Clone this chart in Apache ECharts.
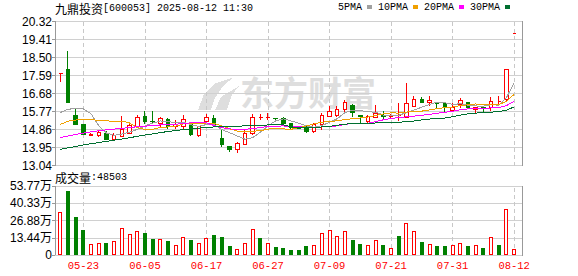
<!DOCTYPE html>
<html><head><meta charset="utf-8">
<script src="https://cdn.jsdelivr.net/npm/echarts@6/dist/echarts.min.js"></script>
<style>html,body{margin:0;padding:0;background:#fff}#c{width:578px;height:276px}
#c svg path{shape-rendering:crispEdges}</style>
</head><body><div id="c"></div>
<script>
const stockName = '九鼎投资';
const stockCode = '600053';
const stamp = '2025-08-12 11:30';
const dates = ['05-20','05-21','05-22','05-23','05-26','05-27','05-28','05-29','05-30','06-03','06-04','06-05','06-06','06-09','06-10','06-11','06-12','06-13','06-16','06-17','06-18','06-19','06-20','06-23','06-24','06-25','06-26','06-27','06-30','07-01','07-02','07-03','07-04','07-07','07-08','07-09','07-10','07-11','07-14','07-15','07-16','07-17','07-18','07-21','07-22','07-23','07-24','07-25','07-28','07-29','07-30','07-31','08-01','08-04','08-05','08-06','08-07','08-08','08-11','08-12'];
const labelDates = ['05-23','06-05','06-17','06-27','07-09','07-21','07-31','08-12'];
const opens  = [17.70,17.90,15.59,15.12,14.56,14.57,14.67,14.33,14.50,14.67,15.00,15.54,15.27,15.17,15.37,15.01,15.00,15.09,14.57,15.26,15.44,14.41,14.02,13.86,14.11,14.67,15.45,15.45,15.44,15.42,15.14,14.95,15.04,14.75,15.09,15.54,15.58,15.88,16.05,15.55,15.26,15.47,15.59,15.52,15.57,15.47,16.01,16.38,16.22,16.22,16.18,15.81,16.10,16.22,15.88,15.98,15.98,16.27,16.38,19.69];
const closes = [17.70,16.23,15.12,14.60,14.62,14.70,14.36,14.58,14.87,15.07,15.46,15.24,15.24,15.42,15.00,15.10,15.37,14.62,15.00,15.48,15.09,14.08,13.86,14.16,14.67,15.48,15.45,15.48,15.42,15.17,14.95,14.90,14.75,15.12,15.59,15.76,15.85,16.22,15.71,15.50,15.54,15.68,15.52,15.59,15.57,16.18,16.38,16.22,16.32,16.15,15.98,15.98,16.35,15.98,15.98,15.93,16.30,16.27,17.90,19.69];
const lows   = [17.28,16.20,15.10,14.58,14.52,14.46,14.35,14.28,14.47,14.63,14.98,15.14,15.20,15.00,14.87,14.87,14.90,14.53,14.50,15.20,14.97,14.00,13.74,13.69,14.08,14.60,15.34,15.34,15.34,15.09,14.87,14.88,14.68,14.70,14.84,15.48,15.48,15.68,15.48,15.20,15.17,15.42,15.34,15.45,15.31,15.45,15.98,16.18,16.05,15.93,15.76,15.76,15.93,15.88,15.68,15.76,15.81,16.10,16.27,19.69];
const highs  = [17.70,18.85,15.91,15.14,14.66,14.78,14.77,14.67,15.54,15.24,15.59,15.79,15.79,15.47,15.44,15.34,15.58,15.20,15.03,15.64,15.58,14.87,14.02,14.24,14.90,15.64,15.64,15.69,15.44,15.47,15.21,14.97,15.09,15.20,15.68,16.05,16.05,16.35,16.15,15.59,15.59,16.10,15.81,15.64,16.22,17.19,16.55,16.49,16.55,16.27,16.27,16.18,16.44,16.27,15.98,15.98,16.52,16.55,17.90,19.69];
const vols = [338800,496500,294800,194000,85300,93100,93100,108600,206900,162900,183600,170700,124100,124100,108600,77600,137100,116400,93100,131900,155200,139600,69800,46500,93100,201700,131900,93100,62100,54300,38800,38800,69800,75000,170700,194000,147400,186200,116400,87900,75000,116400,77600,54300,147400,248300,186200,100900,85300,69800,69800,77600,93100,69800,75000,54300,139600,77600,356900,48503];
const ma5  = [15.72,15.88,15.93,15.90,15.65,15.05,14.68,14.57,14.63,14.72,14.87,15.04,15.18,15.29,15.27,15.20,15.23,15.10,15.02,15.11,15.11,14.85,14.70,14.53,14.37,14.45,14.72,15.05,15.30,15.40,15.29,15.18,15.04,14.98,15.06,15.22,15.41,15.71,15.83,15.81,15.76,15.73,15.59,15.57,15.58,15.71,15.85,15.99,16.13,16.25,16.21,16.13,16.16,16.09,16.05,16.04,16.11,16.09,16.48,17.22];
const ma10 = [15.12,15.28,15.34,15.36,15.35,15.33,15.30,15.27,15.29,15.19,14.96,14.86,14.87,14.96,14.99,15.03,15.14,15.14,15.15,15.19,15.16,15.04,14.90,14.78,14.74,14.78,14.79,14.88,14.92,14.89,14.87,14.95,15.04,15.14,15.23,15.26,15.30,15.37,15.40,15.44,15.49,15.57,15.65,15.70,15.69,15.74,15.79,15.79,15.85,15.92,15.96,15.99,16.07,16.11,16.15,16.13,16.12,16.12,16.28,16.64];
const ma20 = [14.45,14.53,14.61,14.68,14.74,14.80,14.84,14.88,14.92,14.96,15.00,15.03,15.06,15.09,15.11,15.13,15.16,15.20,15.22,15.19,15.06,14.95,14.89,14.87,14.87,14.91,14.96,15.01,15.03,15.04,15.01,15.00,14.97,14.96,14.99,15.02,15.04,15.12,15.16,15.16,15.18,15.26,15.35,15.42,15.46,15.50,15.54,15.58,15.63,15.68,15.73,15.78,15.86,15.90,15.92,15.93,15.95,15.96,16.07,16.28];
const ma30 = [13.86,13.93,14.00,14.08,14.14,14.20,14.26,14.32,14.38,14.44,14.52,14.58,14.64,14.70,14.76,14.81,14.85,14.89,14.93,14.96,14.99,15.01,15.02,15.03,15.04,15.05,15.07,15.09,15.12,15.09,15.00,14.95,14.94,14.96,14.99,15.02,15.07,15.13,15.16,15.17,15.17,15.19,15.20,15.20,15.22,15.26,15.29,15.35,15.39,15.41,15.44,15.51,15.59,15.65,15.69,15.71,15.74,15.76,15.84,16.00];
const priceTicks = ['13.04','13.95','14.86','15.77','16.68','17.59','18.50','19.41','20.32'];
const volTicks = ['0','13.44万','26.88万','40.33万','53.77万'];
const maNames = ['5PMA','10PMA','20PMA','30PMA'];

const UP = '#ff0000', DOWN = '#008000';
const maColors = ['#a0a0a0','#f0a000','#ff00ff','#006f30'];
const PRICE_MIN = 13.04, PRICE_MAX = 20.32, VOL_MAX = 537700;

const upStyle = {color:'#fff', color0:'#fff', borderColor:UP, borderColor0:UP, borderColorDoji:UP};
const candleData = dates.map((d,i) => {
  const it = {value:[opens[i], closes[i], lows[i], highs[i]]};
  if (opens[i] === closes[i]) it.itemStyle = upStyle;
  return it;
});
const volData = vols.map((v,i) => {
  const up = closes[i] > opens[i] || (closes[i] === opens[i] && (i === 0 || closes[i] >= closes[i-1]));
  return {value:v, itemStyle: up ? {color:'#fff', borderColor:UP, borderWidth:1} : {color:DOWN, borderColor:DOWN, borderWidth:1}};
});
const vLines = {
  silent:true, symbol:['none','none'], z:1, animation:false,
  label:{show:false},
  lineStyle:{color:'#c8c8c8', type:[4,3], width:1},
  data: labelDates.map(d => ({xAxis:d}))
};
const monoFont = '"Liberation Mono", "Noto Sans CJK SC", monospace';
const labelFont = '"Liberation Sans", "Noto Sans CJK SC", sans-serif';
const richTitle = {
  a:{fontFamily:'"Noto Sans CJK SC"', fontSize:12, fontWeight:'normal', color:'#000'},
  b:{fontFamily:monoFont, fontSize:10, fontWeight:'normal', color:'#000'}
};

const chart = echarts.init(document.getElementById('c'), null, {renderer:'svg'});
chart.setOption({
  animation:false,
  backgroundColor:'#fff',
  title:[
    {text:`{a|${stockName}}{b|[${stockCode}] ${stamp}}`, left:55, top:2, padding:0,
     textStyle:{fontWeight:'normal', rich:richTitle}},
    {text:`{a|成交量}{b|:${vols[vols.length-1]}}`, left:55, top:171, padding:0,
     textStyle:{fontWeight:'normal', rich:richTitle}}
  ],
  legend:{data:maNames, left:338, top:2, padding:0, itemGap:6, itemWidth:5, itemHeight:4, align:'right', icon:'rect',
    selectedMode:false, textStyle:{fontFamily:monoFont, fontSize:10, color:'#000'}},
  graphic:[
    {type:'text', x:240, y:74, z:0, silent:true,
     style:{text:'东方财富', font:'bold 34px "Noto Sans CJK SC"', fill:'#dedede'}},
    {type:'polygon', z:0, silent:true, shape:{points:[[198,110],[204,94],[216,83],[234,77],[223,86],[215,98],[211,110]]},
     style:{fill:'#dedede'}},
    {type:'polygon', z:0, silent:true, shape:{points:[[215,110],[221,97],[239,86],[232,95],[227,110]]},
     style:{fill:'#dedede'}}
  ],
  grid:[
    {left:56.5, right:60, top:21.5, height:144, containLabel:false},
    {left:56.5, right:60, top:186, height:69, containLabel:false},
    {left:55, right:56, top:21.5, height:144, show:true, borderColor:'#999', borderWidth:1, containLabel:false},
    {left:55, right:56, top:186, height:69, show:true, borderColor:'#999', borderWidth:1, containLabel:false}
  ],
  xAxis:[
    {type:'category', gridIndex:0, data:dates, boundaryGap:true, axisLine:{show:false}, axisTick:{show:false}, axisLabel:{show:false}, splitLine:{show:false}},
    {type:'category', gridIndex:1, data:dates, boundaryGap:true, axisLine:{show:false}, axisTick:{show:false}, splitLine:{show:false},
     axisLabel:{interval:(i,v) => labelDates.indexOf(v) >= 0, color:UP, fontFamily:monoFont, fontSize:10.5, margin:6}},
    {type:'value', gridIndex:2, min:0, max:1, show:false},
    {type:'value', gridIndex:3, min:0, max:1, show:false}
  ],
  yAxis:[
    {type:'value', gridIndex:0, min:PRICE_MIN, max:PRICE_MAX, show:false, splitLine:{show:false}},
    {type:'value', gridIndex:1, min:0, max:VOL_MAX, show:false, splitLine:{show:false}},
    {type:'value', gridIndex:2, min:0, max:priceTicks.length-1, interval:1,
     axisLine:{show:true, lineStyle:{color:'#999'}}, axisTick:{show:true, length:3, lineStyle:{color:'#999'}},
     axisLabel:{formatter:v => priceTicks[v], color:'#000', fontFamily:labelFont, fontSize:12, margin:3},
     splitLine:{show:true, lineStyle:{color:'#d0d0d0', width:1}}},
    {type:'value', gridIndex:3, min:0, max:volTicks.length-1, interval:1,
     axisLine:{show:true, lineStyle:{color:'#999'}}, axisTick:{show:true, length:3, lineStyle:{color:'#999'}},
     axisLabel:{formatter:v => volTicks[v], color:'#000', fontFamily:labelFont, fontSize:12, margin:3},
     splitLine:{show:true, lineStyle:{color:'#d0d0d0', width:1}}}
  ],
  series:[
    {type:'candlestick', name:'K', xAxisIndex:0, yAxisIndex:0, data:candleData, barWidth:4, silent:true,
     itemStyle:{color:'#fff', color0:DOWN, borderColor:UP, borderColor0:DOWN, borderWidth:1},
     markLine:vLines},
    ...[ma5, ma10, ma20, ma30].map((arr,k) => ({
      type:'line', name:maNames[k], xAxisIndex:0, yAxisIndex:0, data:arr, symbol:'none', showSymbol:false, silent:true,
      lineStyle:{color:maColors[k], width:1}, itemStyle:{color:maColors[k]}
    })),
    {type:'bar', name:'VOL', xAxisIndex:1, yAxisIndex:1, data:volData, barWidth:4, silent:true, markLine:vLines}
  ]
});
</script></body></html>
